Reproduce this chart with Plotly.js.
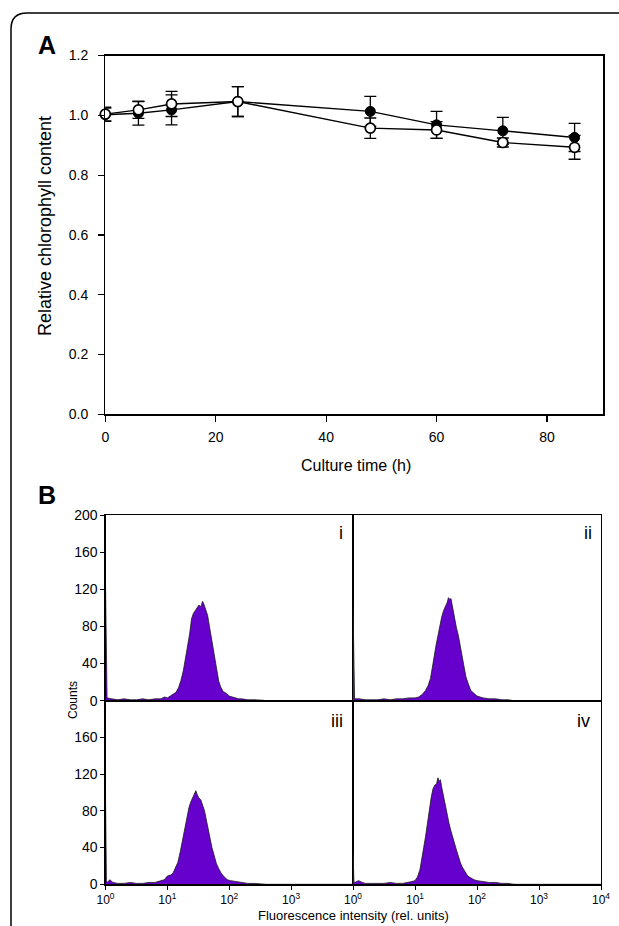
<!DOCTYPE html>
<html>
<head>
<meta charset="utf-8">
<script src="https://cdn.plot.ly/plotly-3.0.1.min.js"></script>
<style>html,body{margin:0;padding:0;background:#fff;}#chart{width:619px;height:926px;}</style>
</head>
<body>
<div id="chart"></div>
<script>
// ---------- Panel A data ----------
var timeH = [0, 6, 12, 24, 48, 60, 72, 85];
var filledVals = [1.002, 1.007, 1.018, 1.046, 1.013, 0.968, 0.948, 0.926];
var filledErr  = [0.022, 0.040, 0.050, 0.050, 0.050, 0.045, 0.045, 0.047];
var openVals   = [1.004, 1.018, 1.038, 1.046, 0.957, 0.951, 0.909, 0.893];
var openErr    = [0.023, 0.028, 0.042, 0.050, 0.034, 0.028, 0.015, 0.040];

// ---------- Panel B data (log10 fluorescence, counts) ----------
var logI = [0, 0.015, 0.025, 0.1, 0.2, 0.3, 0.4, 0.5, 0.6, 0.7, 0.8, 0.9, 0.95, 1.0, 1.05, 1.1, 1.14, 1.18, 1.22, 1.26, 1.30, 1.33, 1.36, 1.39, 1.42, 1.45, 1.48, 1.51, 1.54, 1.57, 1.59, 1.62, 1.65, 1.68, 1.71, 1.74, 1.77, 1.80, 1.83, 1.86, 1.90, 1.95, 2.0, 2.05, 2.1, 2.15, 2.2, 2.3, 2.4, 2.5, 2.55, 2.6, 4.0];
var cntI = [126, 62, 3, 2, 1, 2, 1, 1, 2, 1, 2, 2, 4, 3, 5, 7, 9, 14, 22, 33, 48, 59, 72, 88, 94, 97, 100, 103, 101, 107, 104, 98, 92, 80, 68, 58, 46, 32, 21, 15, 10, 8, 5, 4, 3, 2, 2, 1, 1, 1, 0.5, 0, 0];

var logII = [0, 0.015, 0.025, 0.1, 0.2, 0.3, 0.4, 0.5, 0.6, 0.7, 0.8, 0.9, 1.0, 1.06, 1.12, 1.17, 1.21, 1.25, 1.28, 1.31, 1.34, 1.37, 1.40, 1.43, 1.46, 1.49, 1.52, 1.54, 1.56, 1.58, 1.61, 1.64, 1.67, 1.70, 1.73, 1.76, 1.79, 1.82, 1.86, 1.90, 1.95, 2.0, 2.05, 2.1, 2.2, 2.3, 2.4, 2.5, 2.6, 4.0];
var cntII = [102, 3, 2, 2, 1, 1, 1, 2, 1, 2, 2, 3, 3, 4, 7, 11, 16, 24, 34, 48, 60, 70, 82, 90, 97, 101, 106, 111, 109, 110, 98, 90, 78, 70, 60, 48, 37, 26, 18, 11, 8, 5, 4, 3, 2, 2, 1, 1, 0, 0];

var logIII = [0, 0.015, 0.03, 0.07, 0.12, 0.2, 0.3, 0.4, 0.5, 0.6, 0.7, 0.8, 0.85, 0.9, 0.95, 1.0, 1.05, 1.09, 1.13, 1.17, 1.21, 1.25, 1.29, 1.32, 1.35, 1.38, 1.41, 1.44, 1.46, 1.48, 1.51, 1.54, 1.57, 1.60, 1.63, 1.66, 1.69, 1.72, 1.75, 1.79, 1.83, 1.87, 1.92, 1.97, 2.02, 2.1, 2.2, 2.3, 2.4, 2.55, 2.6, 4.0];
var cntIII = [96, 4, 2, 5, 2, 1, 1, 2, 1, 1, 2, 2, 3, 4, 5, 9, 10, 12, 18, 24, 36, 50, 65, 75, 84, 90, 94, 99, 102, 98, 94, 92, 86, 80, 70, 59, 50, 40, 33, 23, 17, 12, 8, 5, 4, 3, 2, 1, 1, 0.5, 0, 0];

var logIV = [0, 0.015, 0.03, 0.09, 0.15, 0.2, 0.3, 0.4, 0.5, 0.6, 0.7, 0.8, 0.9, 0.95, 1.0, 1.04, 1.08, 1.11, 1.14, 1.17, 1.20, 1.23, 1.26, 1.29, 1.32, 1.35, 1.37, 1.39, 1.41, 1.43, 1.46, 1.49, 1.52, 1.55, 1.58, 1.61, 1.64, 1.67, 1.70, 1.73, 1.76, 1.80, 1.85, 1.90, 1.95, 2.0, 2.1, 2.2, 2.3, 2.4, 2.5, 2.6, 4.0];
var cntIV = [37, 3, 2, 4, 2, 1, 1, 1, 1, 2, 1, 1, 2, 3, 4, 8, 16, 26, 40, 52, 68, 80, 94, 104, 108, 110, 116, 112, 114, 106, 96, 84, 73, 66, 58, 52, 44, 37, 30, 24, 19, 14, 9, 7, 5, 4, 3, 2, 2, 1, 1, 0, 0];

var panelLabels = ['i', 'ii', 'iii', 'iv'];
var logTickText = ['10<sup>0</sup>', '10<sup>1</sup>', '10<sup>2</sup>', '10<sup>3</sup>', '10<sup>4</sup>'];
var logTickVals = [1, 10, 100, 1000, 10000];

var FONT = 'Liberation Sans, Arial, sans-serif';
var W = 619, H = 926;
function px(x) { return x / W; }
function py(y) { return 1 - y / H; }
function toLin(arr) { return arr.map(function (v) { return Math.pow(10, v); }); }

var traces = [
  {
    x: timeH, y: filledVals, xaxis: 'x', yaxis: 'y', type: 'scatter', mode: 'lines+markers',
    line: {color: '#000', width: 1.4},
    marker: {symbol: 'circle', size: 10, color: '#000', line: {color: '#000', width: 1}},
    error_y: {type: 'data', array: filledErr, visible: true, color: '#000', thickness: 1.3, width: 6},
    cliponaxis: false, showlegend: false
  },
  {
    x: timeH, y: openVals, xaxis: 'x', yaxis: 'y', type: 'scatter', mode: 'lines+markers',
    line: {color: '#000', width: 1.4},
    marker: {symbol: 'circle', size: 10, color: '#fff', line: {color: '#000', width: 1.7}},
    error_y: {type: 'data', array: openErr, visible: true, color: '#000', thickness: 1.3, width: 6},
    cliponaxis: false, showlegend: false
  }
];

var hist = [[logI, cntI], [logII, cntII], [logIII, cntIII], [logIV, cntIV]];
for (var k = 0; k < 4; k++) {
  traces.push({
    x: toLin(hist[k][0]), y: hist[k][1], xaxis: 'x' + (k + 2), yaxis: 'y' + (k + 2),
    type: 'scatter', mode: 'lines', fill: 'tozeroy', fillcolor: '#6600cc',
    line: {color: '#1a1a1a', width: 0.8}, showlegend: false, hoverinfo: 'skip'
  });
}

var xL = [px(105.5), px(353)], xR = [px(353), px(601)];
var yT = [py(700.7), py(515)], yB = [py(884.3), py(700.7)];

function bx(dom, anchor, showLab, vals) {
  return {
    domain: dom, anchor: anchor, type: 'log', range: [0, 4],
    showline: true, linecolor: '#000', linewidth: 1.2, mirror: true,
    showgrid: false, zeroline: false,
    ticks: showLab ? 'outside' : '', ticklen: 4, tickwidth: 1, tickcolor: '#000',
    showticklabels: showLab, tickvals: vals, ticktext: logTickText.slice(0, vals ? vals.length : 0),
    tickfont: {family: FONT, size: 12, color: '#000'}
  };
}
function by(dom, anchor, showLab, vals) {
  return {
    domain: dom, anchor: anchor, range: [0, 200],
    showline: true, linecolor: '#000', linewidth: 1.2, mirror: true,
    showgrid: false, zeroline: false,
    ticks: showLab ? 'outside' : '', ticklen: 4, tickwidth: 1, tickcolor: '#000',
    showticklabels: showLab, tickvals: vals,
    tickfont: {family: FONT, size: 14, color: '#000'}
  };
}

function ann(text, x, y, size, angle) {
  return {text: text, x: px(x), y: py(y), xref: 'paper', yref: 'paper', showarrow: false,
    xanchor: 'center', yanchor: 'middle', textangle: angle || 0,
    font: {family: FONT, size: size, color: '#000'}};
}

var annotations = [
  ann('<b>A</b>', 47, 45, 25),
  ann('<b>B</b>', 47, 495, 25),
  ann('Relative chlorophyll content', 45, 226, 18, -90),
  ann('Culture time (h)', 356, 466, 16),
  ann('Counts', 73, 700, 12, -90),
  ann('Fluorescence intensity (rel. units)', 353, 915, 13)
];
var labPos = [[341, 533], [588, 533], [337, 721], [583, 721]];
for (var j = 0; j < 4; j++) {
  annotations.push(ann(panelLabels[j], labPos[j][0], labPos[j][1], 18));
}

var layout = {
  width: W, height: H, margin: {l: 0, r: 0, t: 0, b: 0},
  paper_bgcolor: '#fff', plot_bgcolor: 'rgba(0,0,0,0)', showlegend: false,
  xaxis: {
    domain: [px(105.3), px(603.3)], anchor: 'y', range: [0, 90.2],
    tickvals: [0, 20, 40, 60, 80], ticks: 'outside', ticklen: 6, tickwidth: 1.2, tickcolor: '#000',
    ticklabelstandoff: 4,
    showline: true, linecolor: '#000', linewidth: 1.3, mirror: true,
    showgrid: false, zeroline: false, tickfont: {family: FONT, size: 14, color: '#000'}
  },
  yaxis: {
    domain: [py(414.3), py(55.5)], anchor: 'x', range: [0, 1.2],
    tickvals: [0, 0.2, 0.4, 0.6, 0.8, 1.0, 1.2], tickformat: '.1f',
    ticks: 'outside', ticklen: 6, tickwidth: 1.2, tickcolor: '#000',
    ticklabelstandoff: 7,
    showline: true, linecolor: '#000', linewidth: 1.3, mirror: true,
    showgrid: false, zeroline: false, tickfont: {family: FONT, size: 14, color: '#000'}
  },
  xaxis2: bx(xL, 'y2', false, null),
  yaxis2: by(yT, 'x2', true, [0, 40, 80, 120, 160, 200]),
  xaxis3: bx(xR, 'y3', false, null),
  yaxis3: by(yT, 'x3', false, null),
  xaxis4: bx(xL, 'y4', true, [1, 10, 100, 1000]),
  yaxis4: by(yB, 'x4', true, [0, 40, 80, 120, 160]),
  xaxis5: bx(xR, 'y5', true, logTickVals),
  yaxis5: by(yB, 'x5', false, null),
  annotations: annotations,
  shapes: [
    {type: 'path', xref: 'paper', yref: 'paper',
     path: 'M ' + px(11) + ',' + py(940) + ' L ' + px(11) + ',' + py(29) + ' Q ' + px(11) + ',' + py(13) + ' ' + px(27) + ',' + py(13) + ' L ' + px(640) + ',' + py(13),
     line: {color: '#000', width: 1.5}}
  ]
};

Plotly.newPlot('chart', traces, layout, {staticPlot: true, displayModeBar: false});
</script>
</body>
</html>
